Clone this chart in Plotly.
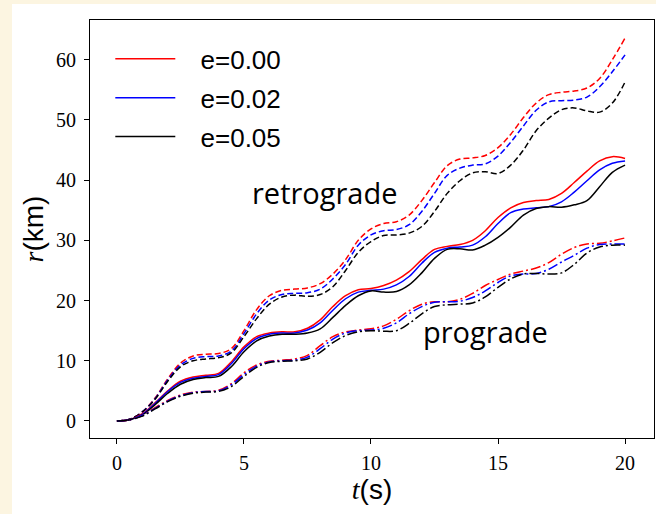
import plotly.graph_objects as go

# time grid (s)
t = [0, 0.5, 1, 1.5, 2, 2.5, 3, 3.5, 4, 4.5, 5, 5.5, 6, 6.5, 7, 7.5, 8, 8.5, 9, 9.5,
     10, 10.5, 11, 11.5, 12, 12.5, 13, 13.5, 14, 14.5, 15, 15.5, 16, 16.5, 17, 17.5,
     18, 18.5, 19, 19.5, 20]

# retrograde (dashed)
retro_e000 = [0, 0.3, 1.5, 3.8, 7.0, 9.6, 10.8, 11.1, 11.2, 12.0, 15.0, 18.5, 20.8, 21.7, 21.9, 22.1,
              22.8, 24.4, 26.8, 30.0, 31.9, 32.8, 33.1, 34.2, 36.6, 39.6, 42.4, 43.5, 43.7, 44.1,
              45.4, 47.6, 50.4, 52.8, 54.2, 54.6, 54.8, 55.3, 56.9, 60.0, 63.6]
retro_e002 = [0, 0.3, 1.5, 3.7, 6.8, 9.3, 10.4, 10.7, 10.8, 11.6, 14.5, 17.8, 20.1, 21.0, 21.2, 21.3,
              21.9, 23.6, 26.0, 29.2, 30.9, 31.6, 31.8, 32.6, 34.8, 37.8, 40.8, 42.0, 42.5, 42.7,
              44.0, 46.3, 49.0, 51.6, 53.0, 53.2, 53.3, 53.8, 55.5, 58.0, 60.8]
retro_e005 = [0, 0.3, 1.5, 3.6, 6.6, 9.0, 10.0, 10.3, 10.5, 11.3, 14.0, 17.0, 19.4, 20.6, 20.9, 20.7,
              21.0, 22.3, 25.0, 28.0, 29.8, 30.8, 30.9, 31.2, 32.3, 34.8, 37.8, 39.9, 41.2, 41.4,
              41.1, 42.5, 45.0, 48.2, 50.3, 51.7, 52.0, 51.5, 51.3, 52.8, 56.3]

# middle group (solid)
mid_e000 = [0, 0.2, 1.2, 3.0, 5.0, 6.6, 7.3, 7.6, 7.9, 9.8, 12.3, 14.0, 14.6, 14.8, 14.8, 15.4,
            16.8, 19.0, 20.8, 21.8, 22.0, 22.5, 23.4, 24.8, 26.8, 28.5, 29.0, 29.3, 30.0, 31.6,
            33.8, 35.4, 36.3, 36.6, 36.8, 37.8, 39.6, 41.5, 43.2, 43.9, 43.6]
mid_e002 = [0, 0.2, 1.1, 2.9, 4.9, 6.4, 7.1, 7.4, 7.7, 9.5, 12.0, 13.7, 14.4, 14.6, 14.6, 15.1,
            16.3, 18.4, 20.3, 21.4, 21.7, 21.9, 22.6, 24.0, 26.2, 28.0, 28.7, 28.9, 29.2, 30.6,
            32.8, 34.6, 35.2, 35.4, 35.6, 36.4, 38.0, 39.9, 41.7, 42.8, 43.2]
mid_e005 = [0, 0.2, 1.0, 2.7, 4.6, 6.1, 6.9, 7.2, 7.4, 9.0, 11.5, 13.3, 14.1, 14.4, 14.4, 14.6,
            15.3, 17.2, 19.2, 20.8, 21.6, 21.4, 21.5, 22.6, 24.6, 27.0, 28.5, 28.6, 28.4, 29.2,
            30.5, 32.2, 34.2, 35.3, 35.6, 35.5, 35.9, 36.6, 38.9, 41.3, 42.5]

# prograde (dash-dot)
pro_e000 = [0, 0.2, 0.9, 2.2, 3.4, 4.3, 4.8, 4.9, 5.1, 6.2, 8.0, 9.3, 9.9, 10.1, 10.3, 10.9,
            12.5, 14.0, 14.8, 15.1, 15.3, 15.8, 16.9, 18.3, 19.4, 19.8, 19.8, 20.2, 21.2, 22.5,
            23.5, 24.4, 24.9, 25.4, 26.3, 27.7, 28.8, 29.4, 29.5, 29.9, 30.4]
pro_e002 = [0, 0.2, 0.9, 2.1, 3.3, 4.2, 4.7, 4.9, 5.0, 6.0, 7.7, 9.1, 9.8, 10.0, 10.1, 10.6,
            12.0, 13.6, 14.6, 15.0, 15.1, 15.4, 16.3, 17.8, 19.0, 19.7, 19.8, 19.9, 20.5, 21.6,
            23.0, 24.1, 24.4, 24.5, 25.2, 26.4, 27.5, 28.7, 29.3, 29.4, 29.4]
pro_e005 = [0, 0.2, 0.8, 2.0, 3.2, 4.1, 4.6, 4.8, 4.9, 5.7, 7.4, 8.9, 9.7, 9.9, 10.0, 10.3,
            11.4, 13.0, 14.2, 14.8, 15.0, 14.9, 15.0, 16.2, 17.8, 19.0, 19.3, 19.4, 19.6, 20.6,
            22.2, 23.6, 24.4, 24.5, 24.4, 24.6, 26.0, 27.9, 28.9, 29.2, 29.2]

labels = ["e=0.00", "e=0.02", "e=0.05"]
colors = ["#ff0000", "#0000ff", "#000000"]
x_ticks = [0, 5, 10, 15, 20]
y_ticks = [0, 10, 20, 30, 40, 50, 60]

groups = [
    ([retro_e000, retro_e002, retro_e005], "6px,3px", False),
    ([mid_e000, mid_e002, mid_e005], "solid", True),
    ([pro_e000, pro_e002, pro_e005], "10px,3px,2px,3px", False),
]

fig = go.Figure()
for series, dash, show in groups:
    for ys, lab, col in zip(series, labels, colors):
        fig.add_trace(go.Scatter(
            x=t, y=ys, mode="lines", name="\u2002\u00a0" + lab, showlegend=show, legendgroup=lab,
            line=dict(color=col, width=1.5, dash=dash, shape="spline", smoothing=1.0),
        ))

cream = "#fcf5e1"
serif = "Liberation Serif, DejaVu Serif, serif"

fig.update_layout(
    width=656, height=514,
    margin=dict(l=90, r=2, t=20, b=76),
    paper_bgcolor=cream, plot_bgcolor="white",
    showlegend=True,
    legend=dict(x=0.036, y=0.963, xanchor="left", yanchor="top",
                bgcolor="rgba(0,0,0,0)", font=dict(family="Liberation Sans", size=26, color="black"),
                itemwidth=60, tracegroupgap=2),
    shapes=[dict(type="rect", xref="paper", yref="paper", x0=-0.1383, x1=1.02,
                 y0=-0.25, y1=1.0383, fillcolor="white", line=dict(width=0), layer="below")],
    annotations=[
        dict(x=8.2, y=37.9, xref="x", yref="y", text="retrograde", showarrow=False,
             font=dict(family="Open Sans", size=29, color="black")),
        dict(x=14.5, y=14.8, xref="x", yref="y", text="prograde", showarrow=False,
             font=dict(family="Open Sans", size=29, color="black")),
    ],
)

fig.update_xaxes(
    range=[-1.06, 21.14], tickvals=x_ticks, ticks="outside", ticklen=5, tickcolor="black",
    showline=True, linecolor="black", linewidth=1, mirror=True, showgrid=False, zeroline=False,
    tickfont=dict(family=serif, size=20, color="black"), ticklabelstandoff=2,
    title=dict(text="<i>t</i><span style='font-family:Liberation Sans'>(s)</span>",
               font=dict(family=serif, size=28, color="black"), standoff=2),
)
fig.update_yaxes(
    range=[-2.83, 66.6], tickvals=y_ticks, ticks="outside", ticklen=5, tickcolor="black",
    showline=True, linecolor="black", linewidth=1, mirror=True, showgrid=False, zeroline=False,
    tickfont=dict(family=serif, size=20, color="black"), ticklabelstandoff=4,
    title=dict(text="<i>r</i><span style='font-family:Liberation Sans'>(km)</span>",
               font=dict(family=serif, size=28, color="black"), standoff=4),
)

fig.write_html("out.html")
